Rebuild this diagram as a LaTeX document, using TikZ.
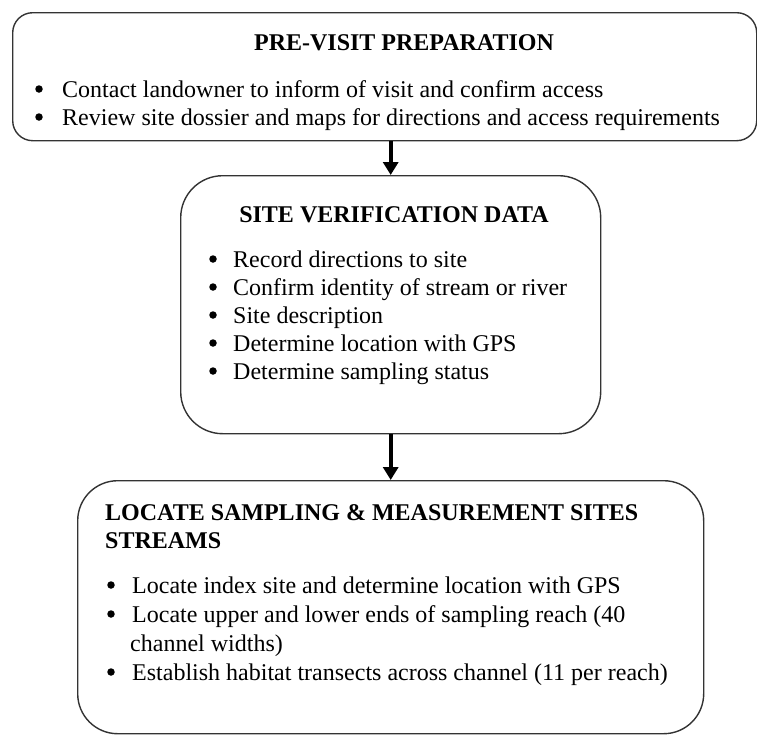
\documentclass[tikz,border=0pt]{standalone}
\usepackage{fontspec}
\setmainfont{Liberation Serif}
\usetikzlibrary{arrows.meta}
\begin{document}
\begin{tikzpicture}[x=1pt,y=-1pt,
  box/.style={draw=black!80,line width=1.4pt,anchor=north west,inner sep=0pt},
  txt/.style={anchor=base west,inner sep=0pt,font=\fontsize{24}{28}\selectfont},
  ttl/.style={inner sep=0pt,font=\fontsize{24}{28}\selectfont\bfseries},
  dot/.style={circle,fill=black,inner sep=0pt,minimum size=7.5pt},
  arr/.style={line width=3.6pt,-{Triangle[length=13pt,width=15pt]}}]
\useasboundingbox (0,0) rectangle (757,734);
% boxes
\node[box,rounded corners=20pt,minimum width=744pt,minimum height=128pt] (b1) at (12,12) {};
\node[box,rounded corners=42pt,minimum width=420pt,minimum height=258pt] (b2) at (180,175) {};
\node[box,rounded corners=40pt,minimum width=626pt,minimum height=253pt] (b3) at (77,480) {};
% arrows
\draw[arr] (b2.north |- b1.south) -- (b2.north);
\draw[arr] (b2.south) -- (b3.north);
% box 1
\node[ttl,anchor=base] (t1) at (404,50) {PRE-VISIT PREPARATION};
\node[dot] (d11) at (39,89) {};
\node[txt] (l11) at (62,97) {Contact landowner to inform of visit and confirm access};
\node[dot] (d12) at (39,117) {};
\node[txt] (l12) at (62,125) {Review site dossier and maps for directions and access requirements};
% box 2
\node[ttl,anchor=base] (t2) at (394,222) {SITE VERIFICATION DATA};
\node[dot] (d21) at (213,259) {};
\node[txt] (l21) at (233,267) {Record directions to site};
\node[dot] (d22) at (213,287) {};
\node[txt] (l22) at (233,295) {Confirm identity of stream or river};
\node[dot] (d23) at (213,315) {};
\node[txt] (l23) at (233,323) {Site description};
\node[dot] (d24) at (213,343) {};
\node[txt] (l24) at (233,351) {Determine location with GPS};
\node[dot] (d25) at (213,371) {};
\node[txt] (l25) at (233,379) {Determine sampling status};
% box 3
\node[ttl,anchor=base west] (t31) at (105,520) {LOCATE SAMPLING \& MEASUREMENT SITES};
\node[ttl,anchor=base west] (t32) at (105,548) {STREAMS};
\node[dot] (d31) at (111,585) {};
\node[txt] (l31) at (132,593) {Locate index site and determine location with GPS};
\node[dot] (d32) at (111,614) {};
\node[txt] (l32) at (132,622) {Locate upper and lower ends of sampling reach (40};
\node[txt] (l33) at (130,651) {channel widths)};
\node[dot] (d34) at (111,672) {};
\node[txt] (l34) at (132,680) {Establish habitat transects across channel (11 per reach)};
\end{tikzpicture}
\end{document}
